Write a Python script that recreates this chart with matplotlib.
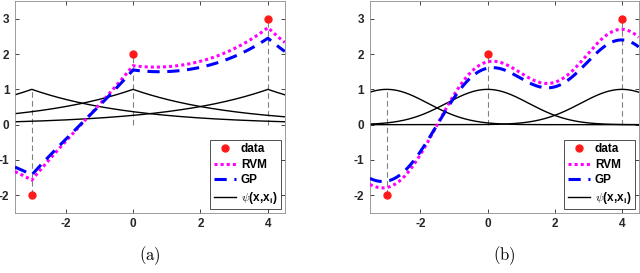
import matplotlib
matplotlib.use('Agg')
import matplotlib.pyplot as plt
import numpy as np

plt.rcParams['font.family'] = ['Liberation Sans', 'DejaVu Sans']
plt.rcParams['mathtext.fontset'] = 'cm'
plt.rcParams['axes.unicode_minus'] = False

# training points
x_data = [-3, 0, 4]
y_data = [-2, 2, 3]

# (a) exponential kernel, (b) gaussian kernel
len_a = 3.0
width_b = 3.0

# curve heights at the data points
rvm_at_data_a = [-1.57, 1.67, 2.75]
gp_at_data_a = [-1.42, 1.55, 2.45]
rvm_at_data_b = [-1.78, 1.78, 2.70]
gp_at_data_b = [-1.60, 1.60, 2.40]

xticks = [-2, 0, 2, 4]
yticks = [-2, -1, 0, 1, 2, 3]
captions = [r'$\mathrm{(a)}$', r'$\mathrm{(b)}$']


def kern_a(x, c):
    return np.exp(-np.abs(x - c) / len_a)


def kern_b(x, c):
    return np.exp(-(x - c) ** 2 / width_b)


def fit_curve(kern, xs, at_data):
    xd = np.array(x_data, float)
    K = kern(xd[:, None], xd[None, :])
    w = np.linalg.solve(K, np.array(at_data))
    return kern(xs[:, None], xd[None, :]) @ w


xs = np.linspace(-3.5, 4.5, 801)

fig = plt.figure(figsize=(6.4, 2.73), dpi=100)
ax_a = fig.add_axes([0.0234, 0.22, 0.4216, 0.776])
ax_b = fig.add_axes([0.578, 0.22, 0.42, 0.776])

panels = [(ax_a, kern_a, rvm_at_data_a, gp_at_data_a),
          (ax_b, kern_b, rvm_at_data_b, gp_at_data_b)]

for i, (ax, kern, rvm_d, gp_d) in enumerate(panels):
    yd = np.array(y_data, float)
    ax.vlines(x_data, np.minimum(yd, 0), np.maximum(yd, 1), colors='0.5',
              linestyles=(0, (5, 3)), lw=0.8, zorder=1)
    for j, c in enumerate(x_data):
        ax.plot(xs, kern(xs, c), color='k', lw=1.0, zorder=2,
                label=r'$\psi$(x,x$_\mathregular{i}$)' if j == 0 else None)
    ax.plot(x_data, y_data, 'o', color='#ff1a1a', ms=5, zorder=5, label='data')
    ax.plot(xs, fit_curve(kern, xs, rvm_d), color='#ff00ff', lw=2.2,
            ls=(0, (1, 1)), zorder=3, label='RVM')
    ax.plot(xs, fit_curve(kern, xs, gp_d), color='#0000ff', lw=2.2,
            ls=(0, (4, 2.5)), zorder=4, label='GP')

    ax.set_xlim(-3.5, 4.5)
    ax.set_ylim(-2.5, 3.5)
    ax.set_xticks(xticks)
    ax.set_yticks(yticks)
    ax.tick_params(direction='in', length=3, width=0.6, labelsize=8.5,
                   colors='0.15', top=True, right=True, pad=4)
    for lab in ax.get_xticklabels() + ax.get_yticklabels():
        lab.set_fontweight('bold')
    for s in ax.spines.values():
        s.set_color('0.55')
        s.set_linewidth(0.6)

    h, l = ax.get_legend_handles_labels()
    order = [l.index('data'), l.index('RVM'), l.index('GP'), 0]
    leg = ax.legend([h[k] for k in order], [l[k] for k in order],
                    loc='lower right', frameon=True, fancybox=False,
                    borderpad=0.3, labelspacing=0.3, handlelength=1.9,
                    handletextpad=0.4, borderaxespad=0.3,
                    prop={'weight': 'bold', 'size': 8.5})
    leg.get_frame().set_edgecolor('k')
    leg.get_frame().set_linewidth(0.6)

    ax.text(0.5, -0.2, captions[i], transform=ax.transAxes, ha='center',
            va='center', fontsize=12)

fig.savefig('out.png', dpi=100)
